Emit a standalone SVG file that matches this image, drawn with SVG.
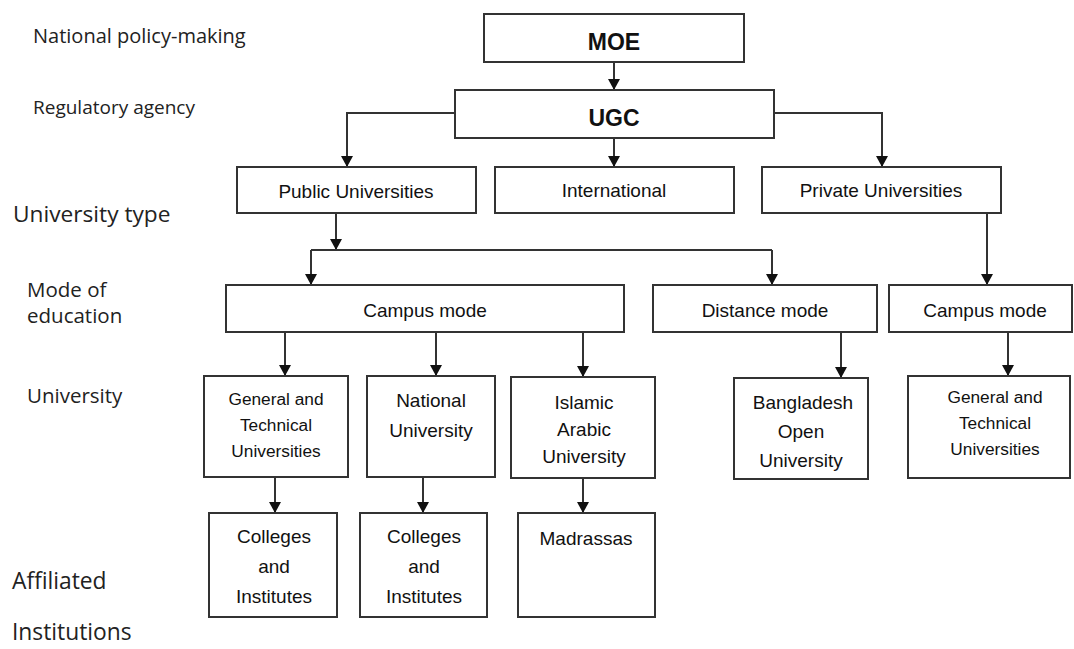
<svg xmlns="http://www.w3.org/2000/svg" width="1074" height="649" viewBox="0 0 1074 649">
<defs>
<marker id="ah" markerUnits="userSpaceOnUse" markerWidth="11" markerHeight="12" refX="11" refY="6" orient="auto">
<path d="M0,0 L11,6 L0,12 z" fill="#111"/>
</marker>
<style>
.box{fill:#fff;stroke:#333;stroke-width:2}
.t{font-family:"Liberation Sans",Arial,sans-serif;font-size:19px;fill:#111;text-anchor:middle}
.s{font-size:17.3px}
.b{font-weight:bold;font-size:23px}
.lab{font-family:"Open Sans","Noto Sans",sans-serif;fill:#222}
.c{fill:none;stroke:#333;stroke-width:2}
.a{marker-end:url(#ah)}
</style>
</defs>
<rect width="1074" height="649" fill="#fff"/>
<g id="labels">
<text class="lab" x="33" y="43" font-size="20">National policy-making</text>
<text class="lab" x="33" y="114" font-size="19">Regulatory agency</text>
<text class="lab" x="13" y="222" font-size="22.7">University type</text>
<text class="lab" x="27" y="297" font-size="20.5">Mode of</text>
<text class="lab" x="27" y="323" font-size="20.5">education</text>
<text class="lab" x="27" y="403" font-size="20.5">University</text>
<text class="lab" x="12" y="589" font-size="22.8">Affiliated</text>
<text class="lab" x="12" y="640" font-size="22.8">Institutions</text>
</g>
<g id="connectors">
<path class="c a" d="M614,62 V90"/>
<path class="c a" d="M455,113 H347 V167"/>
<path class="c a" d="M614,138 V167"/>
<path class="c a" d="M774,113 H882 V167"/>
<path class="c a" d="M336,213 V250"/>
<path class="c" d="M311,250 H772"/>
<path class="c a" d="M311,250 V285"/>
<path class="c a" d="M772,250 V285"/>
<path class="c a" d="M987,213 V285"/>
<path class="c a" d="M285,332 V376"/>
<path class="c a" d="M436,332 V376"/>
<path class="c a" d="M583,332 V377"/>
<path class="c a" d="M841,332 V378"/>
<path class="c a" d="M1008,332 V376"/>
<path class="c a" d="M275,477 V513"/>
<path class="c a" d="M423,477 V513"/>
<path class="c a" d="M583,478 V513"/>
</g>
<g id="moe"><rect class="box" x="484" y="14" width="260" height="48"/><text class="t b" x="614" y="50">MOE</text></g>
<g id="ugc"><rect class="box" x="455" y="90" width="319" height="48"/><text class="t b" x="614" y="126">UGC</text></g>
<g id="public"><rect class="box" x="237" y="167" width="239" height="46"/><text class="t" x="356" y="198">Public Universities</text></g>
<g id="international"><rect class="box" x="495" y="167" width="239" height="46"/><text class="t" x="614" y="197">International</text></g>
<g id="private"><rect class="box" x="762" y="167" width="239" height="46"/><text class="t" x="881" y="197">Private Universities</text></g>
<g id="campus-public"><rect class="box" x="226" y="285" width="398" height="47"/><text class="t" x="425" y="317">Campus mode</text></g>
<g id="distance"><rect class="box" x="653" y="285" width="224" height="47"/><text class="t" x="765" y="317">Distance mode</text></g>
<g id="campus-private"><rect class="box" x="889" y="285" width="183" height="47"/><text class="t" x="985" y="317">Campus mode</text></g>
<g id="gentech-public"><rect class="box" x="204" y="376" width="144" height="101"/><text class="t s" x="276" y="405">General and</text><text class="t s" x="276" y="431">Technical</text><text class="t s" x="276" y="457">Universities</text></g>
<g id="national"><rect class="box" x="367" y="376" width="128" height="101"/><text class="t" x="431" y="407">National</text><text class="t" x="431" y="437">University</text></g>
<g id="islamic"><rect class="box" x="511" y="377" width="144" height="101"/><text class="t" x="584" y="409">Islamic</text><text class="t" x="584" y="436">Arabic</text><text class="t" x="584" y="463">University</text></g>
<g id="bou"><rect class="box" x="734" y="378" width="134" height="101"/><text class="t" x="803" y="409">Bangladesh</text><text class="t" x="801" y="438">Open</text><text class="t" x="801" y="467">University</text></g>
<g id="gentech-private"><rect class="box" x="908" y="376" width="162" height="102"/><text class="t s" x="995" y="403">General and</text><text class="t s" x="995" y="429">Technical</text><text class="t s" x="995" y="455">Universities</text></g>
<g id="colleges1"><rect class="box" x="209" y="513" width="128" height="104"/><text class="t" x="274" y="543">Colleges</text><text class="t" x="274" y="573">and</text><text class="t" x="274" y="603">Institutes</text></g>
<g id="colleges2"><rect class="box" x="360" y="513" width="127" height="104"/><text class="t" x="424" y="543">Colleges</text><text class="t" x="424" y="573">and</text><text class="t" x="424" y="603">Institutes</text></g>
<g id="madrassas"><rect class="box" x="518" y="513" width="137" height="104"/><text class="t" x="586" y="545">Madrassas</text></g>
</svg>
